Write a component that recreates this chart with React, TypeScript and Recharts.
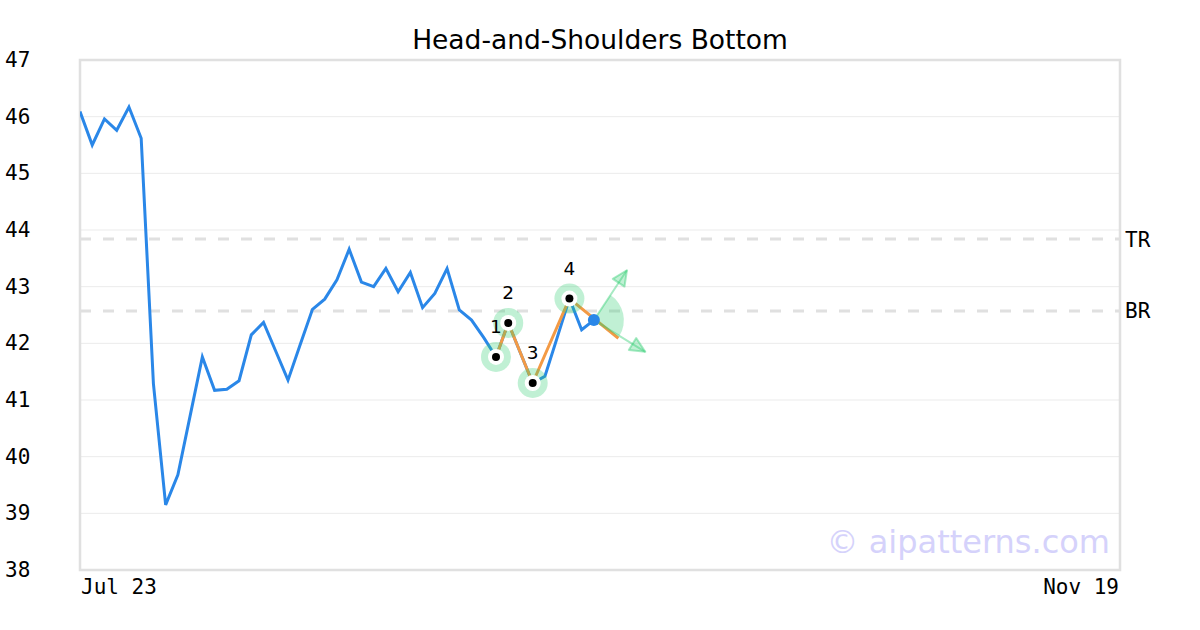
import {
  ComposedChart,
  Line,
  Scatter,
  XAxis,
  YAxis,
  CartesianGrid,
  ReferenceLine,
  ReferenceArea,
} from 'recharts'

// daily closes, one per trading day starting Jul 23
const closes = [
  46.09, 45.5, 45.96, 45.76, 46.17, 45.62, 41.29, 39.15, 39.68, 40.72,
  41.76, 41.17, 41.19, 41.34, 42.15, 42.37, 41.86, 41.35, 41.98, 42.6,
  42.78, 43.12, 43.66, 43.08, 43.0, 43.32, 42.91, 43.25, 42.63, 42.88,
  43.32, 42.59, 42.41, 42.1, 41.76, 42.36, 41.83, 41.3, 41.42, 42.1,
  42.79, 42.24, 42.41,
]

// pattern pivots (day index / price)
const pivotDays = [34, 35, 37, 40]
const pivotPrices = [41.76, 42.36, 41.3, 42.79]
const pivotLabels = ['1', '2', '3', '4']

// projected neckline continuation
const necklineEnd = { day: 44, price: 42.09 }

// breakout point and its target arrows
const breakout = { day: 42, price: 42.41 }
const arrowUp = { day: 44.7, price: 43.29 }
const arrowDown = { day: 46.2, price: 41.85 }

const topResistance = 43.84
const bottomResistance = 42.57

const xDomain = [0, 85]
const xTicks = [0, 85]
const xTickLabels = ['Jul 23', 'Nov 19']
const yTicks = [38, 39, 40, 41, 42, 43, 44, 45, 46, 47]

const priceData = closes.map((price, day) => ({ day, price }))
const pivotData = pivotDays.map((day, k) => ({ day, price: pivotPrices[k], label: pivotLabels[k] }))
const patternData = [...pivotData, { day: necklineEnd.day, price: necklineEnd.price }]
const arrowData = [
  { day: arrowUp.day, price: arrowUp.price },
  { day: breakout.day, price: breakout.price },
  { day: arrowDown.day, price: arrowDown.price },
]

const MONO = '"DejaVu Sans Mono", monospace'
const SANS = '"DejaVu Sans", sans-serif'
const GREEN = 'rgba(46, 204, 113, 0.3)'
const ARROW = 'rgba(46, 204, 113, 0.42)'

const YTick = (props: any) => {
  const { y, payload } = props
  return (
    <text x={5} y={y + 7} fontFamily={MONO} fontSize={21} fill='#000' textAnchor='start'>
      {payload.value}
    </text>
  )
}

const XTick = (props: any) => {
  const { x, payload, index } = props
  const first = index === 0
  return (
    <text x={first ? x + 1 : x - 1} y={594} fontFamily={MONO} fontSize={21} fill='#000' textAnchor={first ? 'start' : 'end'}>
      {xTickLabels[xTicks.indexOf(payload.value)]}
    </text>
  )
}

const PivotMarker = (props: any) => {
  const { cx, cy } = props
  return (
    <g>
      <circle cx={cx} cy={cy} r={15} fill={GREEN} />
      <circle cx={cx} cy={cy} r={8} fill='#fff' />
      <circle cx={cx} cy={cy} r={4} fill='#000' />
    </g>
  )
}

const PivotLabel = (props: any) => {
  const { cx, cy, payload } = props
  return (
    <text x={cx} y={cy - 24} fontFamily={SANS} fontSize={18.5} fill='#000' textAnchor='middle'>
      {payload.label}
    </text>
  )
}

const BreakoutDot = (props: any) => {
  const { cx, cy } = props
  return <circle cx={cx} cy={cy} r={6} fill='#2a87e8' />
}

// wedge at the breakout and arrowheads at both tips
const ArrowDot = (props: any) => {
  const { cx, cy, index, points } = props
  if (!points || points.length < 3) return <g key={`a-${index}`} />
  const c = points[1]
  if (index === 1) {
    const r = 30
    const a1 = Math.atan2(points[0].y - cy, points[0].x - cx)
    const a2 = Math.atan2(points[2].y - cy, points[2].x - cx)
    const d = `M${cx},${cy} L${cx + r * Math.cos(a1)},${cy + r * Math.sin(a1)} A${r},${r} 0 0 1 ${cx + r * Math.cos(a2)},${cy + r * Math.sin(a2)} Z`
    return <path key='wedge' d={d} fill={GREEN} stroke='none' />
  }
  const ang = Math.atan2(cy - c.y, cx - c.x)
  const len = 15
  const half = 7
  const bx = cx - len * Math.cos(ang)
  const by = cy - len * Math.sin(ang)
  const px = -Math.sin(ang) * half
  const py = Math.cos(ang) * half
  const d = `M${cx},${cy} L${bx + px},${by + py} L${bx - px},${by - py} Z`
  return <path key={`head-${index}`} d={d} fill='rgba(46, 204, 113, 0.3)' stroke={ARROW} strokeWidth={2} strokeLinejoin='round' />
}

export default function App() {
  return (
    <div style={{ position: 'absolute', left: 0, top: 0, width: 1200, height: 630, background: '#fff' }}>
      <ComposedChart width={1200} height={630} margin={{ top: 60, right: 80, bottom: 0, left: 0 }}>
        <text x={600} y={49} fontFamily={SANS} fontSize={26.5} fill='#000' textAnchor='middle'>
          Head-and-Shoulders Bottom
        </text>
        <CartesianGrid horizontal vertical={false} stroke='#ebebeb' strokeWidth={1} />
        <XAxis
          type='number'
          dataKey='day'
          domain={xDomain}
          ticks={xTicks}
          axisLine={false}
          tickLine={false}
          tick={<XTick />}
          height={60}
          allowDataOverflow
        />
        <YAxis
          type='number'
          domain={[38, 47]}
          ticks={yTicks}
          axisLine={false}
          tickLine={false}
          tick={<YTick />}
          width={80}
          allowDataOverflow
        />
        <ReferenceArea x1={xDomain[0]} x2={xDomain[1]} y1={38} y2={47} fill='none' stroke='#e0e0e0' strokeWidth={2.5} fillOpacity={0} />
        <ReferenceLine
          y={topResistance}
          stroke='#e0e0e0'
          strokeWidth={3}
          strokeDasharray='11 12'
          label={{ value: 'TR', position: 'right', fill: '#000', fontSize: 21, fontFamily: MONO }}
        />
        <ReferenceLine
          y={bottomResistance}
          stroke='#e0e0e0'
          strokeWidth={3}
          strokeDasharray='11 12'
          label={{ value: 'BR', position: 'right', fill: '#000', fontSize: 21, fontFamily: MONO }}
        />
        <Line data={priceData} dataKey='price' stroke='#2a87e8' strokeWidth={3} dot={false} isAnimationActive={false} type='linear' />
        <Line data={patternData} dataKey='price' stroke='#f39a45' strokeWidth={3} dot={false} isAnimationActive={false} type='linear' />
        <Scatter data={pivotData} dataKey='price' shape={<PivotMarker />} isAnimationActive={false} />
        <Line data={arrowData} dataKey='price' stroke={ARROW} strokeWidth={2} dot={ArrowDot} isAnimationActive={false} type='linear' />
        <Scatter data={[breakout]} dataKey='price' shape={<BreakoutDot />} isAnimationActive={false} />
        <Scatter data={pivotData} dataKey='price' shape={<PivotLabel />} isAnimationActive={false} />
        <text x={1110} y={553} fontFamily={SANS} fontSize={32} fill='#d5d2fb' textAnchor='end'>
          © aipatterns.com
        </text>
      </ComposedChart>
    </div>
  )
}
